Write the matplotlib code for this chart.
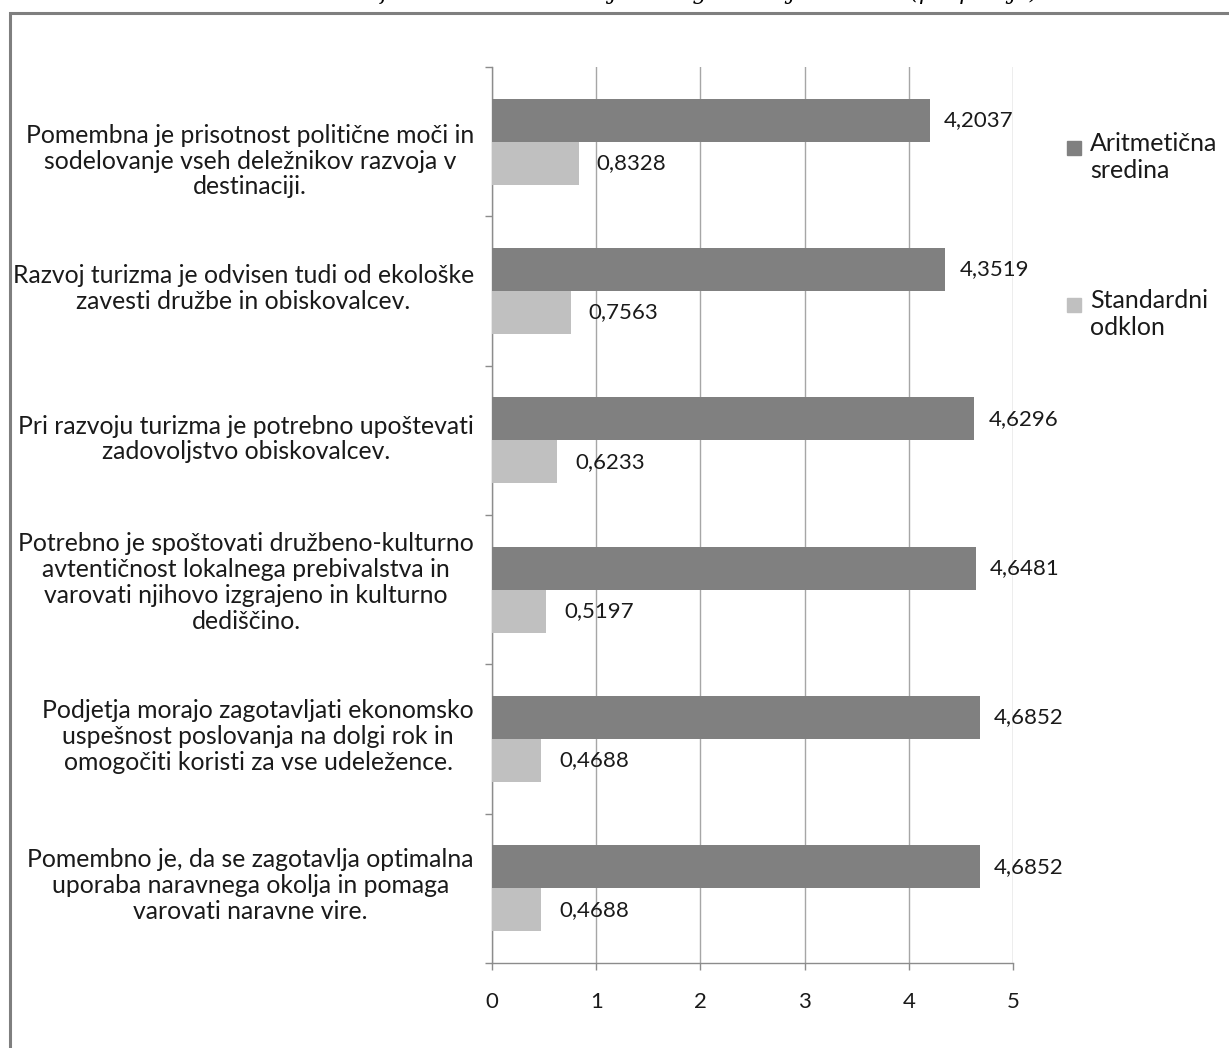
import numpy as np
import matplotlib.pyplot as plt
from matplotlib.patches import Rectangle

# podatki
kategorije = [
    'Pomembna je prisotnost politične moči in\nsodelovanje vseh deležnikov razvoja v\ndestinaciji.',
    'Razvoj turizma je odvisen tudi od ekološke\nzavesti družbe in obiskovalcev.',
    'Pri razvoju turizma je potrebno upoštevati\nzadovoljstvo obiskovalcev.',
    'Potrebno je spoštovati družbeno-kulturno\navtentičnost lokalnega prebivalstva in\nvarovati njihovo izgrajeno in kulturno\ndediščino.',
    'Podjetja morajo zagotavljati ekonomsko\nuspešnost poslovanja na dolgi rok in\nomogočiti koristi za vse udeležence.',
    'Pomembno je, da se zagotavlja optimalna\nuporaba naravnega okolja in pomaga\nvarovati naravne vire.',
]
sredina = [4.2037, 4.3519, 4.6296, 4.6481, 4.6852, 4.6852]
odklon = [0.8328, 0.7563, 0.6233, 0.5197, 0.4688, 0.4688]
serije = ['Aritmetična\nsredina', 'Standardni\nodklon']
xticks = [0, 1, 2, 3, 4, 5]

plt.rcParams['font.family'] = ['Lato', 'DejaVu Sans']

temna = '#808080'
svetla = '#c0c0c0'
siva = '#8c8c8c'
crna = '#1a1a1a'

fig = plt.figure(figsize=(12.29, 10.48), dpi=100)
ax = fig.add_axes([492/1229, 1-963/1048, 521/1229, 896/1048])

y = np.arange(len(kategorije))
h = 0.288
b1 = ax.barh(y - h/2, sredina, height=h, color=temna, zorder=3)
b2 = ax.barh(y + h/2, odklon, height=h, color=svetla, zorder=3)

for rect, v in zip(b1, sredina):
    ax.annotate(f'{v:.4f}'.replace('.', ','), (v, rect.get_y() + rect.get_height()/2),
                xytext=(10, 0), textcoords='offset points', va='center', ha='left',
                fontsize=16, color=crna, zorder=4)
for rect, v in zip(b2, odklon):
    ax.annotate(f'{v:.4f}'.replace('.', ','), (v, rect.get_y() + rect.get_height()/2),
                xytext=(13, 0), textcoords='offset points', va='center', ha='left',
                fontsize=16, color=crna, zorder=4)

ax.set_xlim(0, 5)
ax.set_ylim(len(kategorije) - 0.5, -0.5)
ax.set_xticks(xticks)
ax.set_xticklabels([str(t) for t in xticks], fontsize=16, color=crna)
ax.tick_params(axis='x', length=5, width=1, color=siva, pad=16)

ax.set_yticks(np.arange(-0.5, len(kategorije)))
ax.set_yticklabels([])
ax.tick_params(axis='y', length=5, width=1, color=siva)

# oznake kategorij (prva je v Excelu nekoliko nižje)
zamik = [-14, 1.5, 1, 5, 2, 2]
for yi, txt, dz in zip(y, kategorije, zamik):
    ax.annotate(txt, xy=(0, yi), xycoords=('axes fraction', 'data'),
                xytext=(-13, dz), textcoords='offset points', ha='right', va='center',
                multialignment='center', fontsize=17.8, color=crna, linespacing=1.15)

ax.grid(axis='x', color='#a6a6a6', linewidth=1, zorder=0)
for s in ['top', 'right']:
    ax.spines[s].set_visible(False)
for s in ['left', 'bottom']:
    ax.spines[s].set_color(siva)
    ax.spines[s].set_linewidth(1)

# legenda (kvadratek ob prvi vrstici kot v Excelu)
for barva, besedilo, yc in zip([temna, svetla], serije, [148, 305]):
    fig.add_artist(Rectangle((1067/1229, 1-(yc+7)/1048), 14/1229, 14/1048,
                             transform=fig.transFigure, color=barva))
    fig.text(1090/1229, 1-(yc-16)/1048, besedilo, fontsize=18, color=crna,
             ha='left', va='top', linespacing=1.22)

# okvir
fig.add_artist(Rectangle((10/1229, -0.05), 1.0, 1-13/1048 + 0.05, transform=fig.transFigure,
                         fill=False, edgecolor='#7f7f7f', linewidth=2.2))

# odrezan naslov
fig.text(0.56, 1+1/1048, 'Graf 3: Pomembnost trajnostnega razvoja turizma (povprečje)',
         family='DejaVu Serif', style='italic', fontsize=16, ha='center', va='baseline')

fig.savefig('out.png', dpi=100)
